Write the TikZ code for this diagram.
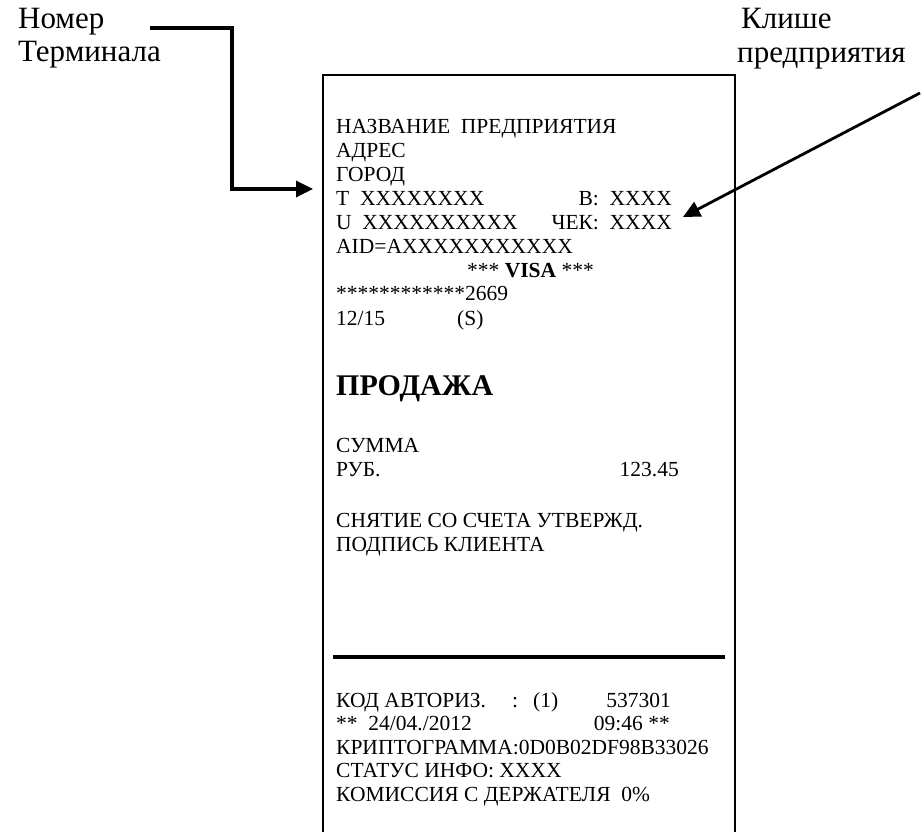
\documentclass[tikz,border=0pt]{standalone}
\usepackage{fontspec}
\setmainfont{Liberation Serif}
\usetikzlibrary{positioning,arrows.meta,calc}

\tikzset{
  rcpt/.style={anchor=base west,inner sep=0pt,font=\fontsize{21.5}{24}\selectfont},
  rcptr/.style={anchor=base east,inner sep=0pt,font=\fontsize{21.5}{24}\selectfont},
  lbl/.style={anchor=base west,inner sep=0pt,font=\fontsize{31}{33}\selectfont},
  ptr/.style={-{Triangle[length=17pt,width=16pt]},line width=3.4pt},
}

\begin{document}
\begin{tikzpicture}[x=1pt,y=-1pt]
  \useasboundingbox (0,0) rectangle (924,832);
  % receipt outline, open at the bottom
  \draw[line width=2.2pt] (323,832) |- (735,75) -- (735,832);
  \draw[line width=4.5pt] (333,657) -- (725,657);

  % labels
  \node[lbl] (num) at (18,29) {Номер};
  \node[lbl] (term) at (18,62) {Терминала};
  \node[lbl] (klishe) at (741,29) {Клише};
  \node[lbl] (pred) at (737,63) {предприятия};

  % header
  \node[rcpt] (name) at (336,134) {НАЗВАНИЕ\ \ ПРЕДПРИЯТИЯ};
  \node[rcpt] (addr) at (336,157.5) {АДРЕС};
  \node[rcpt] (city) at (336,181.5) {ГОРОД};
  \node[rcpt] (trow) at (336,205.5) {T\ \ XXXXXXXX};
  \node[rcptr] (bval) at (672,205.5) {B:\ \ XXXX};
  \node[rcpt] (urow) at (336,229) {U\ \ XXXXXXXXXX};
  \node[rcptr] (chek) at (672,229) {ЧЕК:\ \ XXXX};
  \node[rcpt] (aid) at (336,253) {AID=AXXXXXXXXXXX};
  \node[rcpt] (visa) at (467,277) {*** \textbf{VISA} ***};
  \node[rcpt] (pan) at (336,300.5) {************2669};
  \node[rcpt] (exp) at (336,325) {12/15};
  \node[rcpt] (sflag) at (457,325) {(S)};

  % operation
  \node[rcpt,font=\fontsize{30}{34}\selectfont\bfseries] (sale) at (336,395) {ПРОДАЖА};
  \node[rcpt] (sum) at (336,452) {СУММА};
  \node[rcpt] (rub) at (336,476.5) {РУБ.};
  \node[rcptr] (amt) at (679,476.5) {123.45};
  \node[rcpt] (debit) at (336,527) {СНЯТИЕ СО СЧЕТА УТВЕРЖД.};
  \node[rcpt] (sign) at (336,551) {ПОДПИСЬ КЛИЕНТА};

  % footer
  \node[rcpt] (auth) at (336,707) {КОД АВТОРИЗ.};
  \node[rcpt] (colon) at (512,707) {:};
  \node[rcpt] (one) at (533,707) {(1)};
  \node[rcptr] (code) at (671,707) {537301};
  \node[rcpt] (date) at (336,730.5) {**\ \ 24/04./2012};
  \node[rcptr] (time) at (670,730.5) {09:46 **};
  \node[rcpt] (crypt) at (336,754) {КРИПТОГРАММА:0D0B02DF98B33026};
  \node[rcpt] (stat) at (336,777.5) {СТАТУС ИНФО: XXXX};
  \node[rcpt] (fee) at (336,801) {КОМИССИЯ С ДЕРЖАТЕЛЯ\ \ 0\%};

  % pointers
  \coordinate (numend) at (150,28);
  \coordinate (termtip) at (313,189);
  \draw[ptr] (numend) -- ++(82,0) |- (termtip);
  \coordinate (klend) at (920,93);
  \coordinate (chektip) at (683,217);
  \draw[ptr,line width=2.8pt] (klend) -- (chektip);
\end{tikzpicture}
\end{document}
